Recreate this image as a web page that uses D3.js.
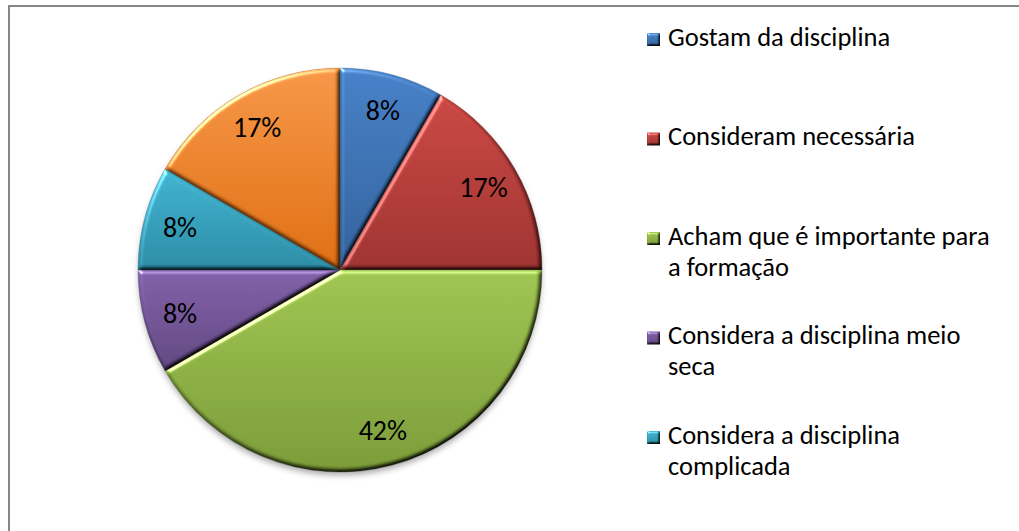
<!DOCTYPE html>
<html>
<head>
<meta charset="utf-8">
<script src="https://cdn.jsdelivr.net/npm/d3@7"></script>
<style>
  html, body { margin: 0; padding: 0; background: #fff; overflow: hidden; }
  svg { display: block; }
</style>
</head>
<body>
<svg id="chart" width="1019" height="531"></svg>
<script>
// Survey answers about the subject (number of respondents per answer)
const categories = [
  "Gostam da disciplina",
  "Consideram necessária",
  "Acham que é importante para a formação",
  "Considera a disciplina meio seca",
  "Considera a disciplina complicada",
  "Outros"
];
const values = [1, 2, 5, 1, 1, 2];
const colors = ["#4F81BD", "#C0504D", "#9BBB59", "#8064A2", "#4BACC6", "#F79646"];

const W = 1019, H = 531;
const cx = 340, cy = 270, R = 202;
const font = "Carlito, Calibri, Lato, 'Open Sans', sans-serif";

const svg = d3.select("#chart");
const defs = svg.append("defs");

function shade(c, lk) {
  const h = d3.hsl(c);
  h.s = h.s < 0.6 ? h.s * 1.15 : h.s * 0.95;
  h.l = h.l * lk;
  return h.formatHex();
}

// Vertical shading per slice: lighter on top, darker at the bottom
colors.forEach((c, i) => {
  const g = defs.append("linearGradient")
    .attr("id", "grad" + i)
    .attr("x1", 0).attr("y1", 0).attr("x2", 0).attr("y2", 1);
  g.append("stop").attr("offset", "0%").attr("stop-color", shade(c, 0.98));
  g.append("stop").attr("offset", "100%").attr("stop-color", shade(c, 0.74));
});

// Soft bevel on the edges of each shape
function bevelFilter(id, blur, scale) {
  const f = defs.append("filter").attr("id", id)
    .attr("x", "-5%").attr("y", "-5%").attr("width", "110%").attr("height", "110%")
    .attr("color-interpolation-filters", "sRGB");
  f.append("feGaussianBlur").attr("in", "SourceAlpha").attr("stdDeviation", blur).attr("result", "blur");
  f.append("feDiffuseLighting").attr("in", "blur").attr("surfaceScale", scale)
    .attr("diffuseConstant", 1.305).attr("lighting-color", "#fff").attr("result", "diffuse")
    .append("feDistantLight").attr("azimuth", 235).attr("elevation", 50);
  f.append("feSpecularLighting").attr("in", "blur").attr("surfaceScale", scale)
    .attr("specularConstant", 0.6).attr("specularExponent", 20)
    .attr("lighting-color", "#fff").attr("result", "spec")
    .append("feDistantLight").attr("azimuth", 235).attr("elevation", 25);
  f.append("feComposite").attr("in", "spec").attr("in2", "SourceAlpha")
    .attr("operator", "in").attr("result", "specIn");
  f.append("feComposite").attr("in", "SourceGraphic").attr("in2", "diffuse")
    .attr("operator", "arithmetic").attr("k1", 1).attr("k2", 0).attr("k3", 0).attr("k4", 0)
    .attr("result", "shaded");
  f.append("feComposite").attr("in", "shaded").attr("in2", "specIn")
    .attr("operator", "arithmetic").attr("k1", 0).attr("k2", 1).attr("k3", 1).attr("k4", 0);
}
bevelFilter("bevel", 2, 3);
bevelFilter("bevelSmall", 1, 2);

defs.append("filter").attr("id", "shadow")
  .attr("x", "-10%").attr("y", "-10%").attr("width", "120%").attr("height", "120%")
  .append("feGaussianBlur").attr("stdDeviation", 3);

// Chart area frame
svg.append("rect")
  .attr("x", 9).attr("y", 6)
  .attr("width", W + 20).attr("height", H + 20)
  .attr("fill", "#fff")
  .attr("stroke", "#868686").attr("stroke-width", 2);

// Pie
const total = d3.sum(values);
const pie = d3.pie().sort(null).value(d => d);
const arcs = pie(values);
const arc = d3.arc().innerRadius(0).outerRadius(R);
const labelArc = d3.arc().innerRadius(R * 0.82).outerRadius(R * 0.82);
const pct = d3.format(".0%");

const gPie = svg.append("g").attr("transform", `translate(${cx},${cy})`);

// soft shadow under the pie
gPie.append("circle")
  .attr("cx", 0).attr("cy", 4).attr("r", R - 1)
  .attr("fill", "#000").attr("fill-opacity", 0.35)
  .attr("filter", "url(#shadow)");

gPie.selectAll("path.slice")
  .data(arcs)
  .join("path")
  .attr("class", "slice")
  .attr("d", arc)
  .attr("fill", (d, i) => `url(#grad${i})`)
  .attr("stroke", (d, i) => d3.rgb(colors[i]).darker(1.2))
  .attr("stroke-opacity", 0.4)
  .attr("stroke-width", 0.75)
  .attr("filter", "url(#bevel)");

gPie.selectAll("text.pct")
  .data(arcs)
  .join("text")
  .attr("class", "pct")
  .attr("transform", d => `translate(${labelArc.centroid(d)})`)
  .attr("text-anchor", "middle")
  .attr("dy", "0.36em")
  .attr("font-family", font)
  .attr("font-size", 28)
  .attr("fill", "#000")
  .text(d => pct(d.value / total));

// Legend: evenly spaced slots, text wrapped to the available width;
// entries that do not fit inside the chart area are left out
const legendX = 647, legendTop = 33, slot = 99.5, sw = 13;
const textX = 668, lineH = 31, maxW = 334;
const gLeg = svg.append("g");

categories.forEach((name, i) => {
  const y0 = legendTop + i * slot;
  if (y0 + lineH > H) return;
  gLeg.append("rect")
    .attr("x", legendX).attr("y", y0)
    .attr("width", sw).attr("height", sw)
    .attr("fill", `url(#grad${i})`)
    .attr("filter", "url(#bevelSmall)");

  const t = gLeg.append("text")
    .attr("x", textX).attr("y", y0 + 12.7)
    .attr("font-family", font)
    .attr("font-size", 26.5)
    .attr("fill", "#000");

  const words = name.split(" ");
  let line = [];
  let tspan = t.append("tspan").attr("x", textX).attr("dy", 0);
  words.forEach(w => {
    line.push(w);
    tspan.text(line.join(" "));
    if (tspan.node().getComputedTextLength() > maxW && line.length > 1) {
      line.pop();
      tspan.text(line.join(" "));
      line = [w];
      tspan = t.append("tspan").attr("x", textX).attr("dy", lineH).text(w);
    }
  });
});
</script>
</body>
</html>
